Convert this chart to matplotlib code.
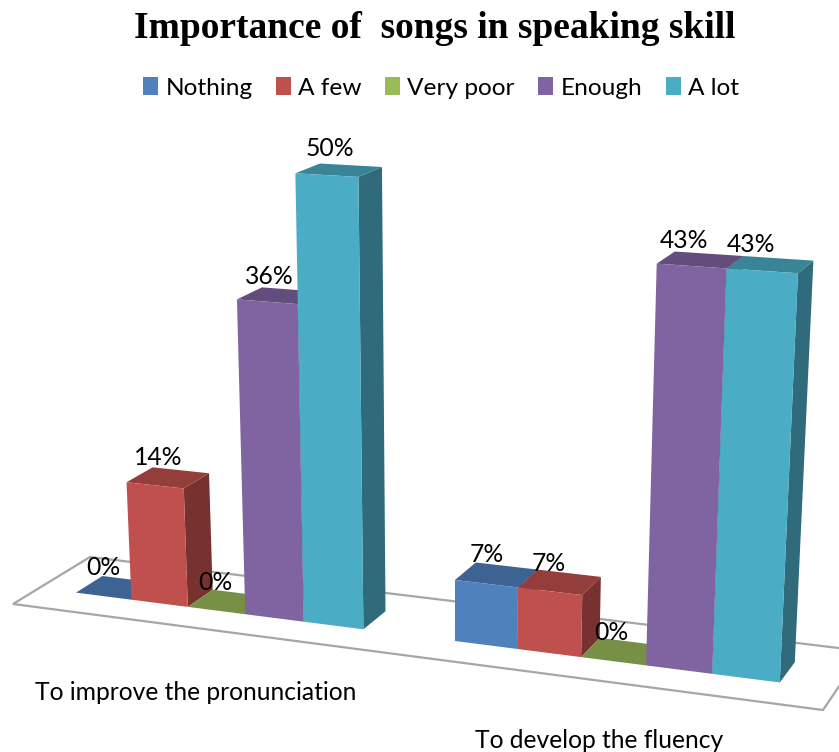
import numpy as np
import matplotlib
matplotlib.use("Agg")
import matplotlib.pyplot as plt
from matplotlib.patches import Patch, Polygon
from matplotlib.colors import to_rgb

categories = ["To improve the pronunciation", "To develop the fluency"]
series_names = ["Nothing", "A few", "Very poor", "Enough", "A lot"]
improve_values = [0, 14, 0, 36, 50]
fluency_values = [7, 7, 0, 43, 43]
values = [improve_values, fluency_values]
colors = ["#4F81BD", "#C0504D", "#9BBB59", "#8064A2", "#4BACC6"]

# camera for the fake 3d: floor corners on the canvas and where the verticals meet
floor_corners = [(13, 604), (823, 710), (863, 651), (90, 557)]
vertical_vp = (446, 8200)
height_k = -0.00109
gap_slots = 1.5
u_shift = -0.012
depth_front, depth_back = 0.33, 0.68

# nudges for the data labels, px from the middle of the bar top
label_nudges = [
    [(-13, -20), (-10, -20), (-13, -19), (-10, -19), (-9, -22)],
    [(-10, -20), (-11, -19), (-11, -19), (-16, -19), (-19, -20)],
]


def floor_matrix(corners):
    src = [(0, 0), (2, 0), (2, 1), (0, 1)]
    rows, rhs = [], []
    for (u, v), (x, y) in zip(src, corners):
        rows.append([u, v, 1, 0, 0, 0, -u * x, -v * x])
        rows.append([0, 0, 0, u, v, 1, -u * y, -v * y])
        rhs += [x, y]
    return np.append(np.linalg.solve(rows, rhs), 1).reshape(3, 3)


H = floor_matrix(floor_corners)


def project(u, v, h=0):
    p = H @ [u, v, 1] + h * height_k * np.array([vertical_vp[0], vertical_vp[1], 1])
    return p[0] / p[2], p[1] / p[2]


def shade(color, f):
    return tuple(c * f for c in to_rgb(color))


fig, ax = plt.subplots(figsize=(8.39, 7.52), dpi=100)
fig.subplots_adjust(0, 0, 1, 1)
ax.set_xlim(0, 839)
ax.set_ylim(752, 0)
ax.axis("off")

ax.add_patch(Polygon(floor_corners, closed=True, facecolor="white", edgecolor="#A6A6A6", linewidth=1.6))

slot = 1 / (len(series_names) + gap_slots)
for g, group in enumerate(values):
    for s, val in enumerate(group):
        u0 = g + (gap_slots / 2 + s) * slot + u_shift
        u1 = u0 + slot
        c = colors[s]
        v0, v1 = depth_front, depth_back
        side = [project(u1, v0), project(u1, v1), project(u1, v1, val), project(u1, v0, val)]
        top = [project(u0, v0, val), project(u1, v0, val), project(u1, v1, val), project(u0, v1, val)]
        front = [project(u0, v0), project(u1, v0), project(u1, v0, val), project(u0, v0, val)]
        if val > 0:
            ax.add_patch(Polygon(side, closed=True, facecolor=shade(c, 0.62), edgecolor="none"))
        ax.add_patch(Polygon(top, closed=True, facecolor=shade(c, 0.77), edgecolor="none"))
        if val > 0:
            ax.add_patch(Polygon(front, closed=True, facecolor=c, edgecolor="none"))
        lx, ly = project((u0 + u1) / 2, (v0 + v1) / 2, val)
        dx, dy = label_nudges[g][s]
        ax.text(lx + dx, ly + dy, f"{val}%", ha="center", va="center",
                fontsize=17.8, family="Lato", color="black")

ax.text(196, 693, categories[0], ha="center", va="center", fontsize=17.7, family="Lato", color="black")
ax.text(599, 740, categories[1], ha="center", va="center", fontsize=17.7, family="Lato", color="black")

ax.text(435, 28, "Importance of  songs in speaking skill", ha="center", va="center",
        fontsize=27, fontweight="bold", family="Liberation Serif", color="black")

handles = [Patch(facecolor=c, edgecolor="none", label=n) for c, n in zip(colors, series_names)]
ax.legend(handles=handles, ncol=5, loc="center", bbox_to_anchor=(441, 88), bbox_transform=ax.transData,
          frameon=False, prop={"family": "Lato", "size": 17.6}, handlelength=0.62, handleheight=0.75,
          handletextpad=0.3, columnspacing=0.95, borderpad=0)

fig.savefig("out.png", dpi=100)
